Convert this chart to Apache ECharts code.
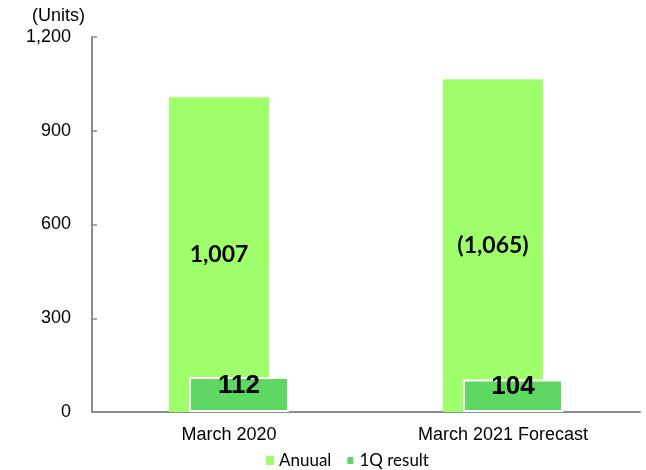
<!DOCTYPE html>
<html><head><meta charset="utf-8">
<script src="https://cdn.jsdelivr.net/npm/echarts@6/dist/echarts.min.js"></script>
<style>html,body{margin:0;padding:0;background:#fff}#c{width:646px;height:470px}</style>
</head><body><div id="c"></div>
<script>
const categories = ['March 2020', 'March 2021 Forecast'];
const annualValues = [1007, 1065];
const annualLabels = ['1,007', '(1,065)'];
const q1Values = [112, 104];
const q1Labels = ['112', '104'];
const yTicks = [0, 300, 600, 900, 1200];

const chart = echarts.init(document.getElementById('c'));
chart.setOption({
  animation: false,
  grid: {left: 92, right: 6, top: 37, bottom: 58},
  legend: {
    top: 447, left: 261, itemWidth: 8, itemHeight: 9, itemGap: 14,
    icon: 'rect',
    textStyle: {fontFamily: 'Lato', fontSize: 17, color: '#000', padding: [0,0,0,0]},
    data: ['Anuual', '1Q result']
  },
  xAxis: {
    type: 'category', data: categories,
    axisLine: {lineStyle: {color: '#8c8c8c', width: 2}},
    axisTick: {show: false},
    axisLabel: {fontFamily: 'Liberation Sans, Arial', fontSize: 18, color: '#000', margin: 14}
  },
  yAxis: {
    type: 'value', min: 0, max: 1200, interval: 300,
    name: '(Units)', nameLocation: 'end', nameGap: 12,
    nameTextStyle: {fontFamily: 'Liberation Sans, Arial', fontSize: 18, color: '#000', align: 'right', padding: [0, 7, 0, 0]},
    axisLine: {show: true, lineStyle: {color: '#8c8c8c', width: 2}},
    axisTick: {show: true, inside: true, length: 5, lineStyle: {color: '#8c8c8c', width: 1.5}},
    splitLine: {show: false},
    axisLabel: {fontFamily: 'Liberation Sans, Arial', fontSize: 18, color: '#000', margin: 21,
      formatter: v => yTicks.includes(v) ? v.toLocaleString('en-US') : ''}
  },
  series: [
    {
      name: 'Anuual', type: 'bar', data: annualValues, barWidth: 100, barGap: '-80%',
      itemStyle: {color: '#9eff6b'},
      label: {show: true, position: 'inside', fontFamily: 'Lato', fontWeight: 'bold', fontSize: 23, color: '#000',
        formatter: p => annualLabels[p.dataIndex]}
    },
    {
      name: '1Q result', type: 'bar', data: q1Values, barWidth: 100,
      itemStyle: {color: '#5ed763', borderColor: '#ffffff', borderWidth: 2},
      label: {show: true, position: 'inside', offset: [0, -9], fontFamily: 'Liberation Sans, Arial', fontWeight: 'bold', fontSize: 26, color: '#000',
        formatter: p => q1Labels[p.dataIndex]}
    }
  ]
});
</script></body></html>
